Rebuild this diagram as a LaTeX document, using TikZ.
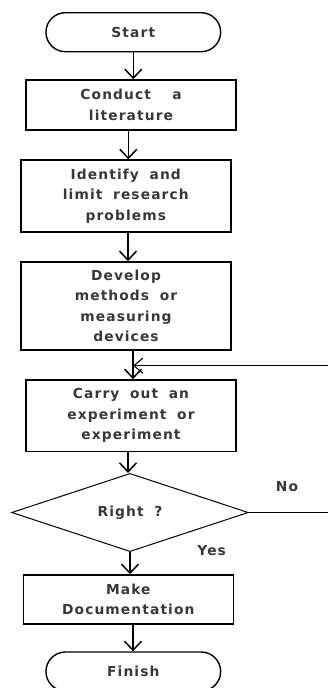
\documentclass[tikz,border=0pt]{standalone}
\usepackage{fontspec}
\setmainfont{DejaVu Sans}[LetterSpace=8, WordSpace=1.8]
\usetikzlibrary{arrows.meta,shapes.geometric,shapes.misc,calc}
\begin{document}
\begin{tikzpicture}[x=1pt,y=-1pt,
  every node/.style={font=\fontsize{13.8}{20.5}\selectfont\bfseries, text=black!78},
  box/.style={draw, line width=1.6pt, rectangle, inner sep=0pt, align=center, minimum width=210pt},
  term/.style={draw, line width=1.4pt, rounded rectangle, inner sep=0pt, minimum width=174.7pt, minimum height=39pt},
  decision/.style={draw, line width=1pt, diamond, inner sep=0pt, minimum width=236.7pt, minimum height=61pt},
  arr/.style={line width=1.5pt, -{Straight Barb[length=9pt,width=17pt]}},
  fb/.style={line width=1.1pt, -{Straight Barb[length=9pt,width=15pt]}},
  plain/.style={line width=1.1pt}
]
\useasboundingbox (0,0) rectangle (328,688);

\node[term] (start) at (133.3,32.2) {Start};
\node[box, minimum height=50pt] (lit) at (131,105) {Conduct\ \ a\\literature};
\node[box, minimum height=71.7pt] (ident) at (125.8,196) {Identify and\\limit research\\problems};
\node[box, minimum height=88pt] (dev) at (126,306) {Develop\\methods or\\measuring\\devices};
\node[box, minimum height=71.7pt] (carry) at (131,415.8) {Carry out an\\experiment or\\experiment};
\node[decision] (dec) at (130,512.5) {Right ?};
\node[box, minimum height=49pt] (doc) at (128.3,599.5) {Make\\Documentation};
\node[term] (finish) at (133.3,671.5) {Finish};

\node (no) at (287,486.7) {No};
\node (yes) at (211.7,550.7) {Yes};

\coordinate (c1) at ([xshift=-2.7pt]lit.south);
\coordinate (c2) at ([xshift=2.2pt]ident.south);
\coordinate (c3) at ([xshift=7pt]dev.south);
\coordinate (c4) at ([xshift=-3pt]carry.south);
\coordinate (c5) at ([xshift=4.7pt]doc.south);
\coordinate (fbR) at (328,365.7);
\coordinate (noR) at (328,512.5);

\draw[arr] (start.south) -- (start.south |- lit.north);
\draw[arr] (c1) -- (c1 |- ident.north);
\draw[arr] (c2) -- (c2 |- dev.north);
\draw[arr] (c3) -- (c3 |- carry.north);
\draw[arr] (c4) -- (c4 |- dec.north);
\draw[arr] (dec.south) -- (dec.south |- doc.north);
\draw[arr] (c5) -- (c5 |- finish.north);
\draw[fb] (fbR) -- (c3 |- fbR);
\draw[plain] (dec.east) -- (noR);
\end{tikzpicture}
\end{document}
